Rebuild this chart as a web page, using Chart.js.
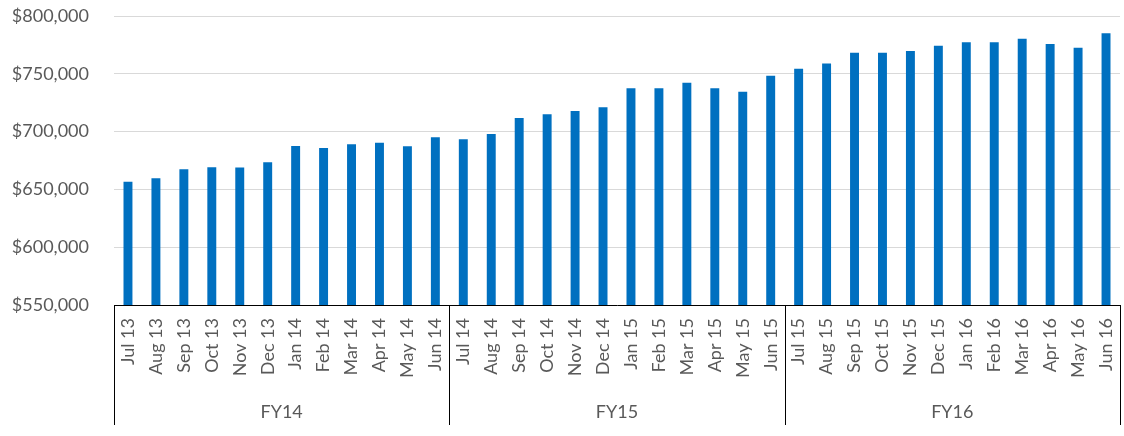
<!DOCTYPE html>
<html>
<head>
<meta charset="utf-8">
<script src="https://cdn.jsdelivr.net/npm/chart.js@4/dist/chart.umd.min.js"></script>
<style>
  html, body { margin: 0; padding: 0; background: #fff; }
  #wrap { width: 1124px; height: 436px; position: relative; }
</style>
</head>
<body>
<div id="wrap"><canvas id="chart"></canvas></div>
<script>
const months = [
  'Jul 13','Aug 13','Sep 13','Oct 13','Nov 13','Dec 13','Jan 14','Feb 14','Mar 14','Apr 14','May 14','Jun 14',
  'Jul 14','Aug 14','Sep 14','Oct 14','Nov 14','Dec 14','Jan 15','Feb 15','Mar 15','Apr 15','May 15','Jun 15',
  'Jul 15','Aug 15','Sep 15','Oct 15','Nov 15','Dec 15','Jan 16','Feb 16','Mar 16','Apr 16','May 16','Jun 16'
];
const fiscalYears = ['FY14', 'FY15', 'FY16'];
const monthsPerYear = 12;
const values = [
  656700, 659600, 667400, 669100, 669000, 673400, 687500, 685800, 689000, 690400, 687300, 695100,
  693300, 697900, 711800, 715000, 717800, 721000, 737400, 737400, 742300, 737400, 734500, 748400,
  754400, 759000, 768300, 768300, 769700, 774300, 777200, 777200, 780400, 775800, 772600, 785000
];
const yMin = 550000, yMax = 800000, yStep = 50000;

const labelColor = '#595959';
const font = { family: 'Lato, "Open Sans", sans-serif', size: 18 };

// vertical separators between fiscal year groups, below the axis
const groupLines = {
  id: 'groupLines',
  afterDraw(chart) {
    const x = chart.scales.x;
    const ctx = chart.ctx;
    const top = chart.chartArea.bottom;
    ctx.save();
    ctx.strokeStyle = '#000';
    ctx.lineWidth = 1;
    for (let i = 0; i <= months.length; i += monthsPerYear) {
      const px = Math.round(x.getPixelForValue(i - 0.5)) + 0.5;
      ctx.beginPath();
      ctx.moveTo(px, top);
      ctx.lineTo(px, top + 120);
      ctx.stroke();
    }
    ctx.restore();
  }
};

new Chart(document.getElementById('chart'), {
  type: 'bar',
  data: {
    labels: months,
    datasets: [{
      data: values,
      backgroundColor: '#0070C0',
      barPercentage: 0.32,
      categoryPercentage: 1
    }]
  },
  options: {
    responsive: true,
    maintainAspectRatio: false,
    animation: false,
    layout: { padding: { left: 10, right: 4, top: 16, bottom: 0 } },
    plugins: { legend: { display: false }, tooltip: { enabled: false } },
    scales: {
      y: {
        min: yMin,
        max: yMax,
        ticks: {
          stepSize: yStep,
          color: labelColor,
          font,
          padding: 25,
          callback: v => '$' + v.toLocaleString('en-US')
        },
        grid: { color: '#d9d9d9', drawTicks: false },
        border: { display: false },
        afterFit(scale) { scale.width = 104; scale.paddingTop = 0; scale.paddingBottom = 0; }
      },
      x: {
        ticks: { color: labelColor, font, minRotation: 90, maxRotation: 90, autoSkip: false, padding: 13 },
        grid: { display: false, drawTicks: false },
        border: { color: '#000', width: 1 },
        afterFit(scale) { scale.height = 85; scale.paddingLeft = 0; scale.paddingRight = 0; }
      },
      x2: {
        type: 'category',
        position: 'bottom',
        labels: fiscalYears,
        weight: 1,
        ticks: { color: labelColor, font, padding: 11, maxRotation: 0 },
        grid: { display: false, drawTicks: false },
        border: { display: false },
        afterFit(scale) { scale.height = 46; scale.paddingLeft = 0; scale.paddingRight = 0; }
      }
    }
  },
  plugins: [groupLines]
});
</script>
</body>
</html>
